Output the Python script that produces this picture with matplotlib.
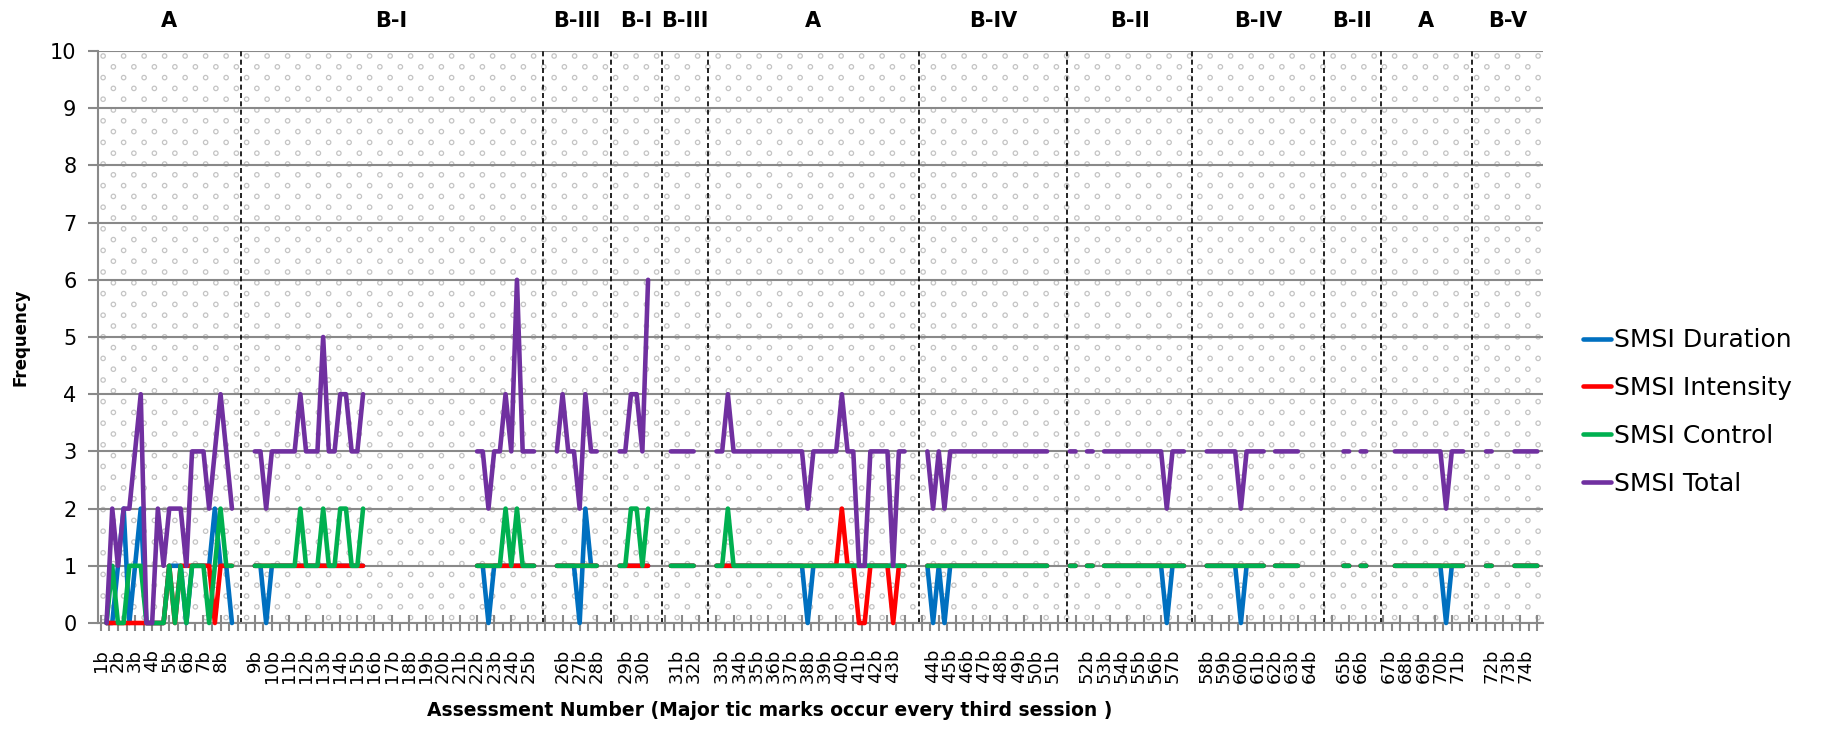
import numpy as np
import matplotlib.pyplot as plt
from matplotlib.lines import Line2D
from matplotlib.transforms import blended_transform_factory

plt.rcParams["font.family"] = ["DejaVu Sans"]

_ = np.nan  # session without data

# values per session (x = session slot), phases separated by empty slots
duration = (
    [_]
    + [0, 0, 1, 2, 0, 1, 2, 0, 0, 0, 0, 1, 1, 1, 0, 1, 1, 1, 1, 2, 1, 1, 0]
    + [_] * 3
    + [1, 1, 0, 1, 1, 1, 1, 1, 1, 1, 1, 1, 1, 1, 1, 1, 1, 1, 1, 1]
    + [_] * 19
    + [1, 1, 0, 1, 1, 1, 1, 1, 1, 1, 1]
    + [_] * 3
    + [1, 1, 1, 1, 0, 2, 1, 1]
    + [_] * 3
    + [1, 1, 1, 1, 1, 1]
    + [_] * 3
    + [1, 1, 1, 1, 1]
    + [_] * 3
    + [1, 1, 1, 1, 1, 1, 1, 1, 1, 1, 1, 1, 1, 1, 1, 1, 0, 1, 1, 1, 1, 1, 1, 1, 1, 1, 1, 1, 1, 1, 1, 1, 1, 1]
    + [_] * 3
    + [1, 0, 1, 0, 1, 1, 1, 1, 1, 1, 1, 1, 1, 1, 1, 1, 1, 1, 1, 1, 1, 1]
    + [_] * 3
    + [1, 1, _, 1, 1, _, 1, 1, 1, 1, 1, 1, 1, 1, 1, 1, 1, 0, 1, 1, 1]
    + [_] * 3
    + [1, 1, 1, 1, 1, 1, 0, 1, 1, 1, 1, _, 1, 1, 1, 1, 1]
    + [_] * 7
    + [1, 1, _, 1, 1]
    + [_] * 4
    + [1, 1, 1, 1, 1, 1, 1, 1, 1, 0, 1, 1, 1]
    + [_] * 3
    + [1, 1, _, _, _, 1, 1, 1, 1, 1]
)

intensity = (
    [_]
    + [0, 0, 0, 0, 0, 0, 0, 0, 0, 0, 0, 1, 0, 1, 1, 1, 1, 1, 1, 0, 1, 1, 1]
    + [_] * 3
    + [1, 1, 1, 1, 1, 1, 1, 1, 1, 1, 1, 1, 1, 1, 1, 1, 1, 1, 1, 1]
    + [_] * 19
    + [1, 1, 1, 1, 1, 1, 1, 1, 1, 1, 1]
    + [_] * 3
    + [1, 1, 1, 1, 1, 1, 1, 1]
    + [_] * 3
    + [1, 1, 1, 1, 1, 1]
    + [_] * 3
    + [1, 1, 1, 1, 1]
    + [_] * 3
    + [1, 1, 1, 1, 1, 1, 1, 1, 1, 1, 1, 1, 1, 1, 1, 1, 1, 1, 1, 1, 1, 1, 2, 1, 1, 0, 0, 1, 1, 1, 1, 0, 1, 1]
    + [_] * 3
    + [1, 1, 1, 1, 1, 1, 1, 1, 1, 1, 1, 1, 1, 1, 1, 1, 1, 1, 1, 1, 1, 1]
    + [_] * 3
    + [1, 1, _, 1, 1, _, 1, 1, 1, 1, 1, 1, 1, 1, 1, 1, 1, 1, 1, 1, 1]
    + [_] * 3
    + [1, 1, 1, 1, 1, 1, 1, 1, 1, 1, 1, _, 1, 1, 1, 1, 1]
    + [_] * 7
    + [1, 1, _, 1, 1]
    + [_] * 4
    + [1, 1, 1, 1, 1, 1, 1, 1, 1, 1, 1, 1, 1]
    + [_] * 3
    + [1, 1, _, _, _, 1, 1, 1, 1, 1]
)

control = (
    [_]
    + [0, 1, 0, 0, 1, 1, 1, 0, 0, 0, 0, 1, 0, 1, 0, 1, 1, 1, 0, 1, 2, 1, 1]
    + [_] * 3
    + [1, 1, 1, 1, 1, 1, 1, 1, 2, 1, 1, 1, 2, 1, 1, 2, 2, 1, 1, 2]
    + [_] * 19
    + [1, 1, 1, 1, 1, 2, 1, 2, 1, 1, 1]
    + [_] * 3
    + [1, 1, 1, 1, 1, 1, 1, 1]
    + [_] * 3
    + [1, 1, 2, 2, 1, 2]
    + [_] * 3
    + [1, 1, 1, 1, 1]
    + [_] * 3
    + [1, 1, 2, 1, 1, 1, 1, 1, 1, 1, 1, 1, 1, 1, 1, 1, 1, 1, 1, 1, 1, 1, 1, 1, 1, 1, 1, 1, 1, 1, 1, 1, 1, 1]
    + [_] * 3
    + [1, 1, 1, 1, 1, 1, 1, 1, 1, 1, 1, 1, 1, 1, 1, 1, 1, 1, 1, 1, 1, 1]
    + [_] * 3
    + [1, 1, _, 1, 1, _, 1, 1, 1, 1, 1, 1, 1, 1, 1, 1, 1, 1, 1, 1, 1]
    + [_] * 3
    + [1, 1, 1, 1, 1, 1, 1, 1, 1, 1, 1, _, 1, 1, 1, 1, 1]
    + [_] * 7
    + [1, 1, _, 1, 1]
    + [_] * 4
    + [1, 1, 1, 1, 1, 1, 1, 1, 1, 1, 1, 1, 1]
    + [_] * 3
    + [1, 1, _, _, _, 1, 1, 1, 1, 1]
)

total = (
    [_]
    + [0, 2, 1, 2, 2, 3, 4, 0, 0, 2, 1, 2, 2, 2, 1, 3, 3, 3, 2, 3, 4, 3, 2]
    + [_] * 3
    + [3, 3, 2, 3, 3, 3, 3, 3, 4, 3, 3, 3, 5, 3, 3, 4, 4, 3, 3, 4]
    + [_] * 19
    + [3, 3, 2, 3, 3, 4, 3, 6, 3, 3, 3]
    + [_] * 3
    + [3, 4, 3, 3, 2, 4, 3, 3]
    + [_] * 3
    + [3, 3, 4, 4, 3, 6]
    + [_] * 3
    + [3, 3, 3, 3, 3]
    + [_] * 3
    + [3, 3, 4, 3, 3, 3, 3, 3, 3, 3, 3, 3, 3, 3, 3, 3, 2, 3, 3, 3, 3, 3, 4, 3, 3, 1, 1, 3, 3, 3, 3, 1, 3, 3]
    + [_] * 3
    + [3, 2, 3, 2, 3, 3, 3, 3, 3, 3, 3, 3, 3, 3, 3, 3, 3, 3, 3, 3, 3, 3]
    + [_] * 3
    + [3, 3, _, 3, 3, _, 3, 3, 3, 3, 3, 3, 3, 3, 3, 3, 3, 2, 3, 3, 3]
    + [_] * 3
    + [3, 3, 3, 3, 3, 3, 2, 3, 3, 3, 3, _, 3, 3, 3, 3, 3]
    + [_] * 7
    + [3, 3, _, 3, 3]
    + [_] * 4
    + [3, 3, 3, 3, 3, 3, 3, 3, 3, 2, 3, 3, 3]
    + [_] * 3
    + [3, 3, _, _, _, 3, 3, 3, 3, 3]
)

series_names = ["SMSI Duration", "SMSI Intensity", "SMSI Control", "SMSI Total"]
series_colors = ["#0070C0", "#FF0000", "#00B050", "#7030A0"]

# phases: name, number of assessments, slot of first label
phase_names = ["A", "B-I", "B-III", "B-I", "B-III", "A", "B-IV", "B-II", "B-IV", "B-II", "A", "B-V"]
phase_n_assess = [8, 17, 3, 2, 2, 11, 8, 6, 7, 2, 5, 3]
phase_label_start = [0, 27, 81, 92, 101, 109, 146, 173, 194, 218, 226, 244]
phase_changes = [24.5, 77.5, 89.5, 98.5, 106.5, 143.5, 169.5, 191.5, 214.5, 224.5, 240.5]

n_slots = len(total)
x = np.arange(n_slots)

fig = plt.figure(figsize=(18.23, 7.35), dpi=100)
L, R, B, T = 98 / 1823, 1543 / 1823, 1 - 623 / 735, 1 - 51 / 735
ax = fig.add_axes([L, B, R - L, T - B])
ax.set_xlim(-0.5, 253)
ax.set_ylim(0, 10)

# dotted background pattern
W_px, H_px = 1445, 572
dx, dy = 20.5 / W_px, 10.8 / H_px
px, py = [], []
for i, yy in enumerate(np.arange(dy / 2, 1, dy)):
    off = dx / 2 if i % 2 else 0
    for xx in np.arange(dx / 4 + off, 1, dx):
        px.append(xx)
        py.append(yy)
ax.scatter(px, py, s=10, facecolors="none", edgecolors="#c4c4c4", linewidths=0.9,
           transform=ax.transAxes, zorder=0)

# grid
ax.set_yticks(np.arange(0, 11, 1))
ax.grid(axis="y", color="#898989", linewidth=1.5, zorder=1)
ax.set_axisbelow(True)
for s in ["top", "right"]:
    ax.spines[s].set_visible(False)
for s in ["left", "bottom"]:
    ax.spines[s].set_color("#898989")
    ax.spines[s].set_linewidth(1.5)
ax.tick_params(axis="y", length=7, width=1.5, color="#898989", labelsize=15, pad=8.5)

# x ticks
ax.set_xticks(np.arange(0, 253, 3))
ax.set_xticks(np.arange(1.5, 253, 3), minor=True)
ax.tick_params(axis="x", which="major", direction="inout", length=11, width=1.5,
               color="#898989", labelbottom=False)
ax.tick_params(axis="x", which="minor", direction="out", length=6, width=1.5,
               color="#898989")

trans = blended_transform_factory(ax.transData, ax.transAxes)
num = 1
for name, n, start in zip(phase_names, phase_n_assess, phase_label_start):
    for k in range(n):
        ax.text(start + 3 * k, -0.045, f"{num}b", rotation=90, ha="center", va="top",
                fontsize=13, transform=trans)
        num += 1

# phase change lines and phase titles
for xc in phase_changes:
    ax.axvline(xc, color="black", linestyle=(0, (3, 2)), linewidth=1.2, zorder=2)
edges = [-0.5] + phase_changes + [253]
for i, name in enumerate(phase_names):
    ax.text((edges[i] + edges[i + 1]) / 2, 1.052, name, ha="center", va="center",
            fontsize=15, fontweight="bold", transform=trans)

for vals, name, col in zip([duration, intensity, control, total], series_names, series_colors):
    ax.plot(x, np.array(vals, dtype=float), color=col, linewidth=3.3,
            solid_capstyle="round", solid_joinstyle="round", zorder=3, clip_on=False)

handles = [Line2D([0], [0], color=c, linewidth=3.3, solid_capstyle="round") for c in series_colors]
fig.legend(handles, series_names, loc="center left", bbox_to_anchor=(1583 / 1823, 1 - 412 / 735),
           frameon=False, fontsize=18, handlelength=1.1, handletextpad=0.15,
           labelspacing=0.95, borderpad=0, borderaxespad=0)

fig.text(21 / 1823, 1 - 337 / 735, "Frequency", rotation=90, ha="center", va="center",
         fontsize=12, fontweight="bold")
fig.text(770 / 1823, 1 - 711 / 735, "Assessment Number (Major tic marks occur every third session )",
         ha="center", va="center", fontsize=13.5, fontweight="bold")

fig.savefig("out.png", dpi=100)
